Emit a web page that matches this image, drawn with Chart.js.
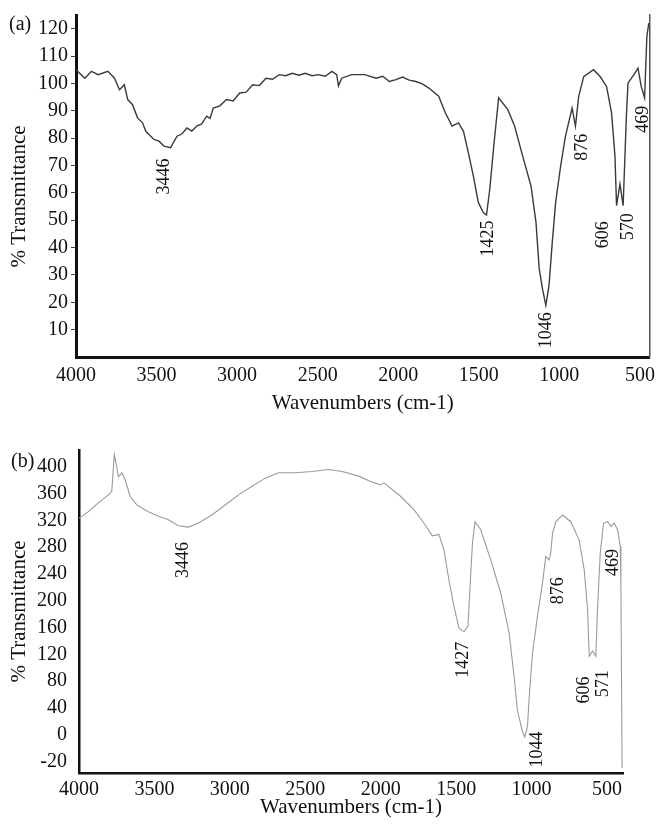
<!DOCTYPE html>
<html lang="en">
<head>
<meta charset="UTF-8">
<title>FTIR spectra (a) and (b)</title>
<script src="https://cdn.jsdelivr.net/npm/chart.js"></script>
<style>
  body { margin: 0; background: #fff; }
  #wrap { position: relative; width: 662px; height: 825px; font-family: "Liberation Serif", "Times New Roman", serif; }
  canvas { position: absolute; left: 0; }
  .tag { position: absolute; font-size: 20px; color: #111; line-height: 1; }
</style>
</head>
<body>
<div id="wrap">
  <canvas id="chartA" width="662" height="416" style="top:0"></canvas>
  <canvas id="chartB" width="662" height="409" style="top:416px"></canvas>
  <div class="tag" style="left:9px;top:13px">(a)</div>
  <div class="tag" style="left:11px;top:450px">(b)</div>
</div>
<script>
// spectrum (a)
const wavenumbersA = [4000,3945,3904,3863,3802,3761,3730,3700,3679,3649,3618,3587,3567,3516,3485,3454,3413,3373,3343,3312,
  3281,3250,3220,3189,3168,3148,3107,3066,3025,2984,2944,2903,2862,2821,2780,2739,2698,2658,2617,2576,
  2535,2494,2453,2412,2382,2371,2351,2290,2208,2137,2096,2055,2014,1973,1932,1891,1850,1810,1749,1707,
  1666,1626,1595,1565,1534,1503,1472,1452,1432,1405,1377,1320,1278,1228,1176,1145,1125,1105,1084,1064,
  1044,1023,992,962,921,900,880,849,788,747,707,676,655,645,624,604,584,574,532,512,
  492,471,457,445];
const transmittanceA = [105,101.9,104.4,103.2,104.4,101.9,97.7,99.5,94.1,92.2,87.4,85.6,82.5,79.5,78.9,77.1,76.5,80.7,81.5,83.7,
  82.6,84.4,85.2,88,87.2,91,91.8,94.1,93.6,96.5,96.8,99.5,99.2,101.9,101.5,103.2,102.8,103.7,103,103.7,
  102.8,103.2,102.6,104.4,103.2,99.1,101.9,103.2,103.2,101.9,102.6,100.7,101.4,102.3,101.2,100.7,99.8,98.3,95.3,89.2,
  84.4,85.6,82.5,74.7,66.2,56.5,52.8,51.9,61.3,78.3,94.7,90.4,84.4,73.5,62.5,49.2,32.2,25,18.9,26.2,
  41.9,56.5,69.8,80.7,91,84.4,95.3,102.5,105,102.5,98.9,89.2,73.5,55.3,63.2,55.3,88,100.1,103.7,105.6,
  98.9,94.7,117,122];
const xTicksA = [4000,3500,3000,2500,2000,1500,1000,500];
const yTicksA = [10,20,30,40,50,60,70,80,90,100,110,120];
const peakTextA = ['3446','1425','1046','876','606','570','469'];
const peakAtA = [3454,1444,1082,855,727,574,482];
const peakLevelA = [66,43.3,9.8,76.7,44.7,47.6,86.9];

// spectrum (b)
const wavenumbersB = [4000,3938,3872,3805,3783,3766,3750,3739,3716,3695,3661,3617,3540,3473,3407,3341,3274,3208,3119,3031,
  2942,2853,2765,2677,2566,2455,2345,2256,2145,2068,2001,1979,1869,1780,1714,1658,1614,1581,1548,1515,
  1481,1448,1422,1408,1392,1375,1337,1271,1205,1149,1116,1094,1061,1045,1027,1017,994,961,928,906,
  884,873,861,839,795,740,685,651,629,618,596,574,563,545,523,496,474,452,430,412,
  408,400];
const transmittanceB = [323,333,346,358,363,418,400,385,391,381,356,343,333,326,321,312,310,316,328,343,
  358,371,383,391,391,393,396,393,386,378,373,376,356,336,316,297,299,276,231,192,
  159,154,162,221,286,318,306,261,212,152,87,37,5,-3,12,52,122,177,226,266,
  261,271,301,318,328,318,291,246,187,117,125,117,187,271,316,318,311,316,306,281,
  227,-50];
const xTicksB = [4000,3500,3000,2500,2000,1500,1000,500];
const yTicksB = [-40,0,40,80,120,160,200,240,280,320,360,400];
const yTickLabelsB = ['-20','0','40','80','120','160','200','240','280','320','360','400'];
const peakTextB = ['3446','1427','1044','876','606','571','469'];
const peakAtB = [3309,1450,959,826,653,527,461];
const peakLevelB = [261,112,-22,215,67,76,257];

const serif = '"Liberation Serif", "Times New Roman", serif';
const ink = '#111';

// rotated peak numbers placed through the chart scales
const peakLabels = {
  id: 'peakLabels',
  afterDatasetsDraw(chart, args, opts) {
    const { ctx, scales } = chart;
    ctx.save();
    ctx.font = '18px ' + serif;
    ctx.fillStyle = ink;
    ctx.textAlign = 'center';
    ctx.textBaseline = 'middle';
    opts.text.forEach((t, i) => {
      const x = scales.x.getPixelForValue(opts.at[i]);
      const y = scales.y.getPixelForValue(opts.level[i]);
      ctx.save();
      ctx.translate(x, y);
      ctx.rotate(-Math.PI / 2);
      ctx.fillText(t, 0, 0);
      ctx.restore();
    });
    ctx.restore();
  }
};

function spectrum(id, s) {
  const tickFont = { family: serif, size: 20 };
  const titleFont = { family: serif, size: 21 };
  return new Chart(document.getElementById(id), {
    type: 'line',
    data: {
      datasets: [{
        data: s.x.map((w, i) => ({ x: w, y: s.y[i] })),
        borderColor: s.color,
        borderWidth: s.lineWidth,
        pointRadius: 0,
        tension: 0,
        fill: false
      }]
    },
    options: {
      responsive: false,
      animation: false,
      layout: { padding: s.pad },
      plugins: {
        legend: { display: false },
        tooltip: { enabled: false },
        peakLabels: { text: s.peakText, at: s.peakAt, level: s.peakLevel }
      },
      scales: {
        x: {
          type: 'linear', reverse: true, min: s.xMin, max: 4000,
          afterBuildTicks: sc => { sc.ticks = s.xTicks.map(v => ({ value: v })); },
          afterFit: sc => { sc.height = s.xHeight; },
          grid: { drawOnChartArea: false, drawTicks: true, tickLength: 0, color: 'rgba(0,0,0,0)' },
          border: { color: ink, width: s.axisWidth },
          ticks: { font: tickFont, color: ink, padding: s.xTickPad, maxRotation: 0, autoSkip: false,
                   callback: v => String(v) },
          title: { display: true, text: 'Wavenumbers (cm-1)', font: titleFont, color: ink,
                   padding: { top: 0, bottom: s.xTitlePad } }
        },
        y: {
          min: s.yMin, max: s.yMax,
          afterBuildTicks: sc => { sc.ticks = s.yTicks.map(v => ({ value: v })); },
          afterFit: sc => { sc.width = s.yWidth; },
          grid: { drawOnChartArea: false, drawTicks: true, tickLength: s.yTickLen, color: '#444' },
          border: { color: ink, width: s.axisWidth },
          ticks: {
            font: tickFont, color: ink, padding: s.yTickPad,
            callback: (v, i) => s.yLabels ? s.yLabels[i] : String(v)
          },
          title: { display: true, text: s.yTitle, font: titleFont, color: ink, padding: { top: 7, bottom: 0 } }
        },
        y2: {
          position: 'right', min: s.yMin, max: s.yMax, display: s.rightEdge,
          ticks: { display: false },
          grid: { display: false },
          border: { display: true, color: '#555', width: 1.5, dash: [2, 2] },
          afterFit: sc => { sc.width = 0; }
        }
      }
    },
    plugins: [peakLabels]
  });
}

spectrum('chartA', {
  x: wavenumbersA, y: transmittanceA, color: '#3a3a3a', lineWidth: 1.4,
  pad: { left: 0, right: 5, top: 13, bottom: 0 },
  xMin: 440, xTicks: xTicksA, xHeight: 59, xTickPad: 7, xTitlePad: 0,
  yMin: 0, yMax: 125, yTicks: yTicksA, yWidth: 76, yTickLen: 5, yTickPad: 3,
  yTitle: '% Transmittance\u00a0\u00a0\u00a0\u00a0',
  axisWidth: 3, rightEdge: true,
  peakText: peakTextA, peakAt: peakAtA, peakLevel: peakLevelA
});

spectrum('chartB', {
  x: wavenumbersB, y: transmittanceB, color: '#9a9a9a', lineWidth: 1.1,
  pad: { left: 0, right: 39, top: 34, bottom: 0 },
  xMin: 394, xTicks: xTicksB, xHeight: 52, xTickPad: 5, xTitlePad: 5,
  yMin: -57, yMax: 425, yTicks: yTicksB, yLabels: yTickLabelsB, yWidth: 79, yTickLen: 0, yTickPad: 12,
  yTitle: '% Transmittance',
  axisWidth: 2.5, rightEdge: false,
  peakText: peakTextB, peakAt: peakAtB, peakLevel: peakLevelB
});
</script>
</body>
</html>
